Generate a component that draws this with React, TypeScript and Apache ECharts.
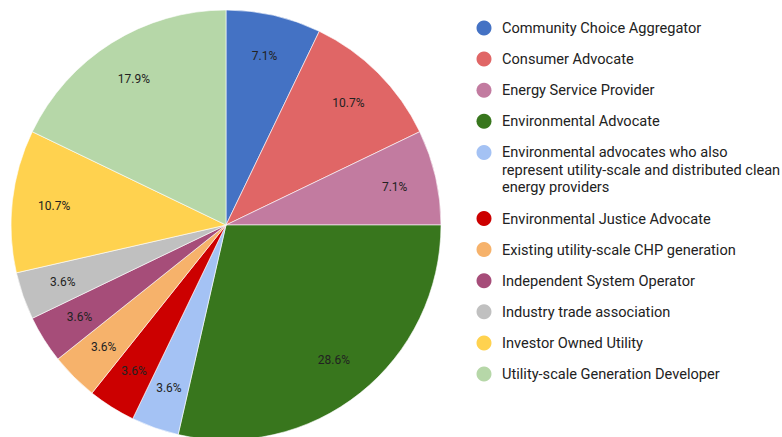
import React, { useEffect, useRef } from "react";
import * as echarts from "echarts";

const categories = [
  "Community Choice Aggregator",
  "Consumer Advocate",
  "Energy Service Provider",
  "Environmental Advocate",
  "Environmental advocates who also represent utility-scale and distributed clean energy providers",
  "Environmental Justice Advocate",
  "Existing utility-scale CHP generation",
  "Independent System Operator",
  "Industry trade association",
  "Investor Owned Utility",
  "Utility-scale Generation Developer",
];

const legendLabels = [
  "Community Choice Aggregator",
  "Consumer Advocate",
  "Energy Service Provider",
  "Environmental Advocate",
  "Environmental advocates who also\nrepresent utility-scale and distributed clean\nenergy providers",
  "Environmental Justice Advocate",
  "Existing utility-scale CHP generation",
  "Independent System Operator",
  "Industry trade association",
  "Investor Owned Utility",
  "Utility-scale Generation Developer",
];

const counts = [2, 3, 2, 8, 1, 1, 1, 1, 1, 3, 5];

const colors = [
  "#4472c4",
  "#e06666",
  "#c27ba0",
  "#38761d",
  "#a4c2f4",
  "#cc0000",
  "#f6b26b",
  "#a64d79",
  "#c0c0c0",
  "#ffd24f",
  "#b6d7a8",
];

export default function App() {
  const ref = useRef<HTMLDivElement>(null);

  useEffect(() => {
    document.body.style.margin = "0";
    if (!ref.current) return;
    const chart = echarts.init(ref.current, undefined, { renderer: "svg" });

    const fontFamily = "Roboto, Arial, sans-serif";
    const total = counts.reduce((a, b) => a + b, 0);
    const legendGraphics: any[] = [];
    let y = 28;
    const lineH = 17.5;
    legendLabels.forEach((lab, i) => {
      const nLines = lab.split("\n").length;
      legendGraphics.push({
        type: "circle",
        shape: { cx: 484, cy: y, r: 7.5 },
        style: { fill: colors[i] },
      });
      legendGraphics.push({
        type: "text",
        x: 502,
        y: y - lineH / 2,
        style: {
          text: lab,
          fill: "#222222",
          font: `14.6px ${fontFamily}`,
          lineHeight: lineH,
          verticalAlign: "top",
          align: "left",
        },
      });
      y += 31.1 + (nLines - 1) * lineH;
    });

    const baseData = categories.map((c, i) => ({
      name: c,
      value: counts[i],
      itemStyle: { color: colors[i] },
    }));
    const labelData = categories.map((c, i) => ({
      name: c,
      value: counts[i],
      itemStyle: { color: "rgba(0,0,0,0)", borderWidth: 0 },
    }));

    chart.setOption({
      animation: false,
      graphic: legendGraphics,
      series: [
        {
          type: "pie",
          center: [226, 225],
          radius: [0, 215],
          startAngle: 90,
          clockwise: true,
          silent: true,
          avoidLabelOverlap: false,
          label: { show: false },
          labelLine: { show: false },
          itemStyle: { borderColor: "#ffffff", borderWidth: 0.6 },
          data: baseData,
        },
        {
          type: "pie",
          center: [226, 225],
          radius: [125, 215],
          startAngle: 90,
          clockwise: true,
          silent: true,
          avoidLabelOverlap: false,
          label: {
            show: true,
            position: "inside",
            formatter: (p: any) => ((p.value / total) * 100).toFixed(1) + "%",
            color: "#222222",
            fontSize: 12,
            fontFamily,
          },
          labelLine: { show: false },
          data: labelData,
        },
      ],
    });

    return () => chart.dispose();
  }, []);

  return <div ref={ref} style={{ width: 782, height: 437 }} />;
}
